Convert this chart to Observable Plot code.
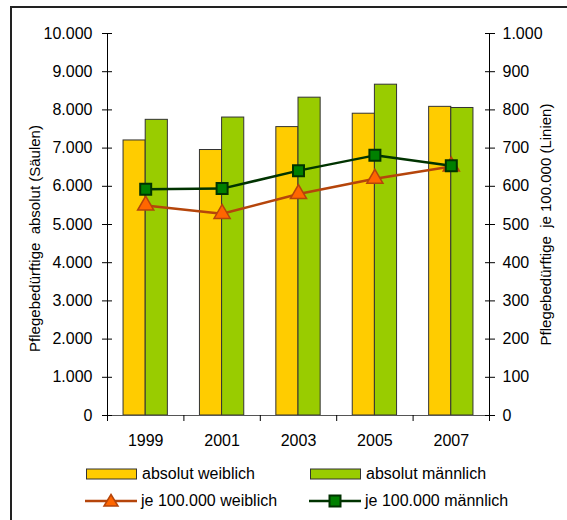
<!DOCTYPE html>
<html><head><meta charset="utf-8">
<script src="https://cdn.jsdelivr.net/npm/d3@7"></script>
<script src="https://cdn.jsdelivr.net/npm/@observablehq/plot@0.6"></script>
<style>
body{margin:0;background:#fff;font-family:"Liberation Sans",Arial,sans-serif;}
#wrap{position:relative;width:567px;height:520px;overflow:hidden;}
#frame{position:absolute;left:10px;top:6px;right:-5px;bottom:-5px;border-top:2px solid #222;border-left:2px solid #222;}
#chart{position:absolute;left:0;top:0;}
.legend{position:absolute;font-size:16px;color:#000;display:flex;align-items:center;white-space:nowrap;height:18px;line-height:18px;}
.legend svg{margin-right:4px;}
</style></head><body>
<div id="wrap"><div id="frame"></div><div id="chart"></div></div>
<script>
// ---- data ----
const years = [1999, 2001, 2003, 2005, 2007];
const absWeiblich = [7200, 6950, 7550, 7900, 8080];
const absMaennlich = [7740, 7800, 8320, 8660, 8050];
const je100kWeiblich = [550, 528, 580, 620, 652];
const je100kMaennlich = [592, 594, 641, 681, 654];
const leftTicks = [0, 1000, 2000, 3000, 4000, 5000, 6000, 7000, 8000, 9000, 10000];
const labelLeft = "Pflegebedürftige  absolut (Säulen)";
const labelRight = "Pflegebedürftige  je 100.000 (Linien)";
const seriesNames = ["absolut weiblich", "absolut männlich", "je 100.000 weiblich", "je 100.000 männlich"];

// ---- styles ----
const cYellow = "#FFCC00", cGreen = "#99CC00";
const cOrLine = "#B5450B", cOrFill = "#FF6600";
const cGrLine = "#003300", cGrFill = "#008000";
const barStroke = "#333";
const ratio = 10; // right axis (per 100.000) -> left axis scale
const barW = 0.58; // bar width in year units

const de = d3.formatLocale({decimal: ",", thousands: ".", grouping: [3], currency: ["", "€"]});
const fmt = de.format(",d");

const rows = years.map((y, i) => ({year: y, w: absWeiblich[i], m: absMaennlich[i], lw: je100kWeiblich[i], lm: je100kMaennlich[i]}));
const bounds = years.map(y => y - 1).concat([years[years.length - 1] + 1]);

const plot = Plot.plot({
  width: 567, height: 460,
  marginLeft: 107, marginRight: 78, marginTop: 33, marginBottom: 45,
  style: {fontFamily: '"Liberation Sans", Arial, sans-serif', fontSize: "16px", color: "#000", background: "transparent", overflow: "visible"},
  x: {domain: [bounds[0], bounds[bounds.length - 1]]},
  y: {domain: [0, leftTicks[leftTicks.length - 1]]},
  marks: [
    Plot.rect(rows, {x1: d => d.year - barW, x2: "year", y1: 0, y2: "w", fill: cYellow, stroke: barStroke, strokeWidth: 1}),
    Plot.rect(rows, {x1: "year", x2: d => d.year + barW, y1: 0, y2: "m", fill: cGreen, stroke: barStroke, strokeWidth: 1}),
    Plot.ruleY([0], {stroke: "#555"}),
    Plot.ruleX([bounds[0], bounds[bounds.length - 1]], {stroke: "#000"}),
    Plot.axisY({anchor: "left", ticks: leftTicks, tickSize: 10, dx: 5, fill: "none", stroke: "#000"}),
    Plot.axisY({anchor: "left", ticks: leftTicks, tickSize: 0, tickPadding: 15, tickFormat: fmt, label: null, fontSize: 16}),
    Plot.axisY({anchor: "right", ticks: leftTicks, tickSize: 10, dx: -5, fill: "none", stroke: "#000"}),
    Plot.axisY({anchor: "right", ticks: leftTicks, tickSize: 0, tickPadding: 13, tickFormat: d => fmt(d / ratio), label: null, fontSize: 16}),
    Plot.axisX({ticks: bounds, tickSize: 6, fill: "none", stroke: "#000"}),
    Plot.axisX({ticks: years, tickSize: 0, tickPadding: 19, tickFormat: d => String(d), label: null, fontSize: 16}),
    Plot.line(rows, {x: "year", y: d => d.lw * ratio, stroke: cOrLine, strokeWidth: 2.5}),
    Plot.dot(rows, {x: "year", y: d => d.lw * ratio, symbol: "triangle", r: 6, fill: cOrFill, stroke: cOrLine, strokeWidth: 1.5}),
    Plot.line(rows, {x: "year", y: d => d.lm * ratio, stroke: cGrLine, strokeWidth: 2.5}),
    Plot.dot(rows, {x: "year", y: d => d.lm * ratio, symbol: "square", r: 6.2, fill: cGrFill, stroke: cGrLine, strokeWidth: 2}),
    Plot.text([labelLeft], {text: d => d, frameAnchor: "left", textAnchor: "middle", rotate: -90, dx: -72, dy: 14, fontSize: 15}),
    Plot.text([labelRight], {text: d => d, frameAnchor: "right", textAnchor: "middle", rotate: -90, dx: 57, dy: 0, fontSize: 15})
  ]
});
document.getElementById("chart").appendChild(plot);

// ---- legend ----
const wrap = document.getElementById("wrap");
const ns = "http://www.w3.org/2000/svg";
function swatch(kind, fill, stroke) {
  const s = document.createElementNS(ns, "svg");
  s.setAttribute("width", 52); s.setAttribute("height", 18);
  if (kind === "rect") {
    s.innerHTML = `<rect x="0.5" y="4" width="50" height="10" fill="${fill}" stroke="${barStroke}"/>`;
  } else if (kind === "tri") {
    s.innerHTML = `<line x1="0" x2="52" y1="9" y2="9" stroke="${stroke}" stroke-width="2.5"/>` +
      `<path d="M26,2.5 L33,14 L19,14 Z" fill="${fill}" stroke="${stroke}" stroke-width="1.5"/>`;
  } else {
    s.innerHTML = `<line x1="0" x2="52" y1="9" y2="9" stroke="${stroke}" stroke-width="2.5"/>` +
      `<rect x="20.5" y="3.5" width="11" height="11" fill="${fill}" stroke="${stroke}" stroke-width="2"/>`;
  }
  return s;
}
const items = [
  {name: seriesNames[0], kind: "rect", fill: cYellow, left: 86, top: 465},
  {name: seriesNames[1], kind: "rect", fill: cGreen, left: 310, top: 465},
  {name: seriesNames[2], kind: "tri", fill: cOrFill, stroke: cOrLine, left: 85, top: 492},
  {name: seriesNames[3], kind: "sq", fill: cGrFill, stroke: cGrLine, left: 309, top: 492}
];
for (const it of items) {
  const d = document.createElement("div");
  d.className = "legend";
  d.style.left = it.left + "px"; d.style.top = it.top + "px";
  d.appendChild(swatch(it.kind, it.fill, it.stroke));
  const t = document.createElement("span"); t.textContent = it.name;
  d.appendChild(t);
  wrap.appendChild(d);
}
</script>
</body></html>
